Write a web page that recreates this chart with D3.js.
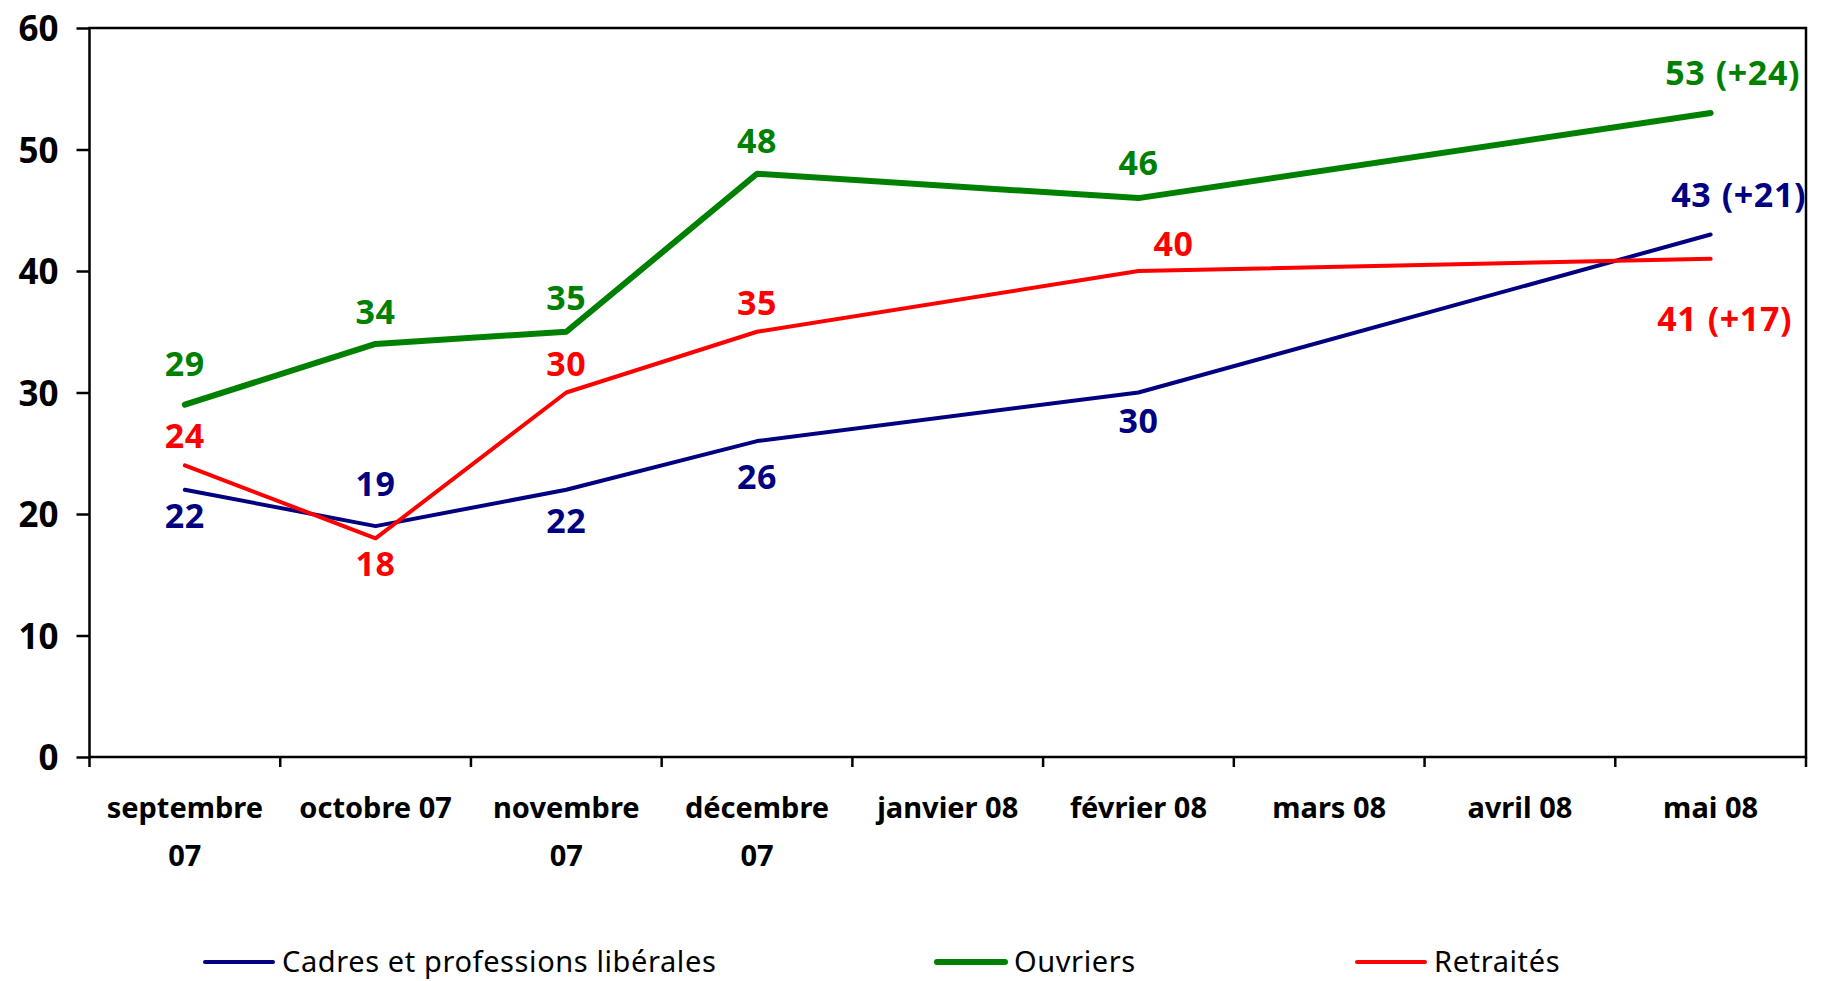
<!DOCTYPE html>
<html>
<head>
<meta charset="utf-8">
<script src="https://cdn.jsdelivr.net/npm/d3@7"></script>
<style>
  html, body { margin: 0; padding: 0; background: #fff; }
  svg { display: block; }
  text { font-family: "Noto Sans", "DejaVu Sans", sans-serif; }
</style>
</head>
<body>
<svg></svg>
<script>
// categories and values (null = no survey that month)
const months = ["septembre 07", "octobre 07", "novembre 07", "décembre 07", "janvier 08",
                "février 08", "mars 08", "avril 08", "mai 08"];
const seriesNames = ["Cadres et professions libérales", "Ouvriers", "Retraités"];
const cadres   = [22, 19, 22, 26, null, 30, null, null, 43];
const ouvriers = [29, 34, 35, 48, null, 46, null, null, 53];
const retraites = [24, 18, 30, 35, null, 40, null, null, 41];
const lastChange = ["+21", "+24", "+17"];
const yTicks = [0, 10, 20, 30, 40, 50, 60];

// label placement (offset of label centre from the point, px)
const labelDy = [
  [26, -42, 31, 36, 0, 28, 0, 0, -40],
  [-41, -32, -34, -33, 0, -35, 0, 0, -40],
  [-30, 25, -29, -29, 0, -27, 0, 0, 60]
];
const labelDx = [
  [0, 0, 0, 0, 0, 0, 0, 0, 28],
  [0, 0, 0, 0, 0, 0, 0, 0, 22],
  [0, 0, 0, 0, 0, 35, 0, 0, 14]
];

const colors = ["#000080", "#008000", "#ff0000"];
const widths = [4, 6, 4];

const width = 1823, height = 981;
const margin = {top: 28, right: 17, bottom: 224, left: 89.5};
const innerWidth = width - margin.left - margin.right;
const innerHeight = height - margin.top - margin.bottom;

const svg = d3.select("svg").attr("width", width).attr("height", height);
const g = svg.append("g")
    .attr("transform", "translate(" + margin.left + "," + margin.top + ")");

const x = d3.scaleBand().domain(months).range([0, innerWidth]);
const y = d3.scaleLinear().domain([0, 60]).range([innerHeight, 0]);
const cx = d => x(d) + x.bandwidth() / 2;

// frame
g.append("rect")
    .attr("x", 0).attr("y", y(60))
    .attr("width", innerWidth).attr("height", innerHeight)
    .attr("fill", "none").attr("stroke", "#000").attr("stroke-width", 2.5);

// y axis
const yAxis = g.append("g")
    .call(d3.axisLeft(y).tickValues(yTicks).tickSize(13).tickPadding(18));
yAxis.select(".domain").remove();
yAxis.selectAll("line").attr("stroke", "#000").attr("stroke-width", 2.5);
yAxis.selectAll("text")
    .attr("font-size", 35).attr("font-weight", "bold").attr("fill", "#000")
    .attr("dy", "0.36em");

// x axis: ticks at category boundaries
const bounds = d3.range(months.length + 1).map(i => i * x.step());
g.selectAll(".xtick").data(bounds).enter().append("line")
    .attr("x1", d => d).attr("x2", d => d)
    .attr("y1", innerHeight).attr("y2", innerHeight + 10)
    .attr("stroke", "#000").attr("stroke-width", 2.5);

const xLabels = g.selectAll(".xlabel").data(months).enter().append("text")
    .attr("class", "xlabel")
    .attr("x", d => cx(d))
    .attr("y", innerHeight + 61)
    .attr("text-anchor", "middle")
    .attr("font-size", 29).attr("font-weight", "bold").attr("fill", "#000");

xLabels.each(function(d) {
    const t = d3.select(this);
    t.text(d);
    if (this.getComputedTextLength() > x.bandwidth() - 15) {
        const parts = d.split(" ");
        const last = parts.pop();
        t.text(null);
        t.append("tspan").attr("x", cx(d)).text(parts.join(" "));
        t.append("tspan").attr("x", cx(d)).attr("dy", 48).text(last);
    }
});

// lines
const allSeries = [cadres, ouvriers, retraites];
const line = d3.line()
    .x(d => cx(d.month))
    .y(d => y(d.value));

allSeries.forEach(function(values, s) {
    const pts = values.map((v, i) => ({month: months[i], value: v, i: i}))
                      .filter(d => d.value !== null);
    g.append("path")
        .datum(pts)
        .attr("d", line)
        .attr("fill", "none")
        .attr("stroke", colors[s])
        .attr("stroke-width", widths[s])
        .attr("stroke-linejoin", "round")
        .attr("stroke-linecap", "round");
});

// data labels
allSeries.forEach(function(values, s) {
    const pts = values.map((v, i) => ({month: months[i], value: v, i: i}))
                      .filter(d => d.value !== null);
    g.selectAll(".lab" + s).data(pts).enter().append("text")
        .attr("x", d => cx(d.month) + labelDx[s][d.i])
        .attr("y", d => y(d.value) + labelDy[s][d.i])
        .attr("dy", "0.36em")
        .attr("text-anchor", "middle")
        .attr("font-size", 34).attr("font-weight", "bold")
        .attr("letter-spacing", 0.6)
        .attr("word-spacing", 1)
        .attr("fill", colors[s])
        .text(d => d.i === months.length - 1 ? d.value + " (" + lastChange[s] + ")" : d.value);
});

// legend
const legendX = [205, 937, 1357];
const legend = svg.append("g").attr("transform", "translate(0,962)");
seriesNames.forEach(function(name, s) {
    legend.append("line")
        .attr("x1", legendX[s]).attr("x2", legendX[s] + 68)
        .attr("y1", 0).attr("y2", 0)
        .attr("stroke", colors[s])
        .attr("stroke-width", s === 1 ? 6 : 4)
        .attr("stroke-linecap", "round");
    legend.append("text")
        .attr("x", legendX[s] + 77)
        .attr("y", 0)
        .attr("dy", "0.36em")
        .attr("font-size", 29)
        .attr("letter-spacing", 0.6)
        .attr("fill", "#000")
        .text(name);
});
</script>
</body>
</html>
